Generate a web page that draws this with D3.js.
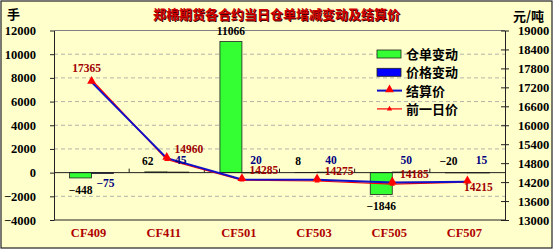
<!DOCTYPE html>
<html lang="zh">
<head>
<meta charset="utf-8">
<title>郑棉期货各合约当日仓单增减变动及结算价</title>
<script src="https://cdn.jsdelivr.net/npm/d3@7/dist/d3.min.js"></script>
<style>
  body { margin: 0; background: #fff; }
  svg text { font-family: "Liberation Serif", "Noto Sans CJK SC", serif; font-weight: bold; }
  .cjk { font-family: "Noto Sans CJK SC", sans-serif !important; }
</style>
</head>
<body>
<script>
// data
var categories = ["CF409", "CF411", "CF501", "CF503", "CF505", "CF507"];
var receiptChange = [-448, 62, 11066, 8, -1846, -20];   // 仓单变动
var priceChange = [-75, 45, 20, 40, 50, 15];             // 价格变动
var settlePrice = [17365, 14960, 14285, 14275, 14185, 14215]; // 结算价
var prevPrice = [17440, 14915, 14265, 14235, 14135, 14200];   // 前一日价
var leftTicks = [-4000, -2000, 0, 2000, 4000, 6000, 8000, 10000, 12000];
var rightTicks = [13000, 13600, 14200, 14800, 15400, 16000, 16600, 17200, 17800, 18400, 19000];

var W = 555, H = 250;
var plot = { left: 54, right: 505, top: 30.5, bottom: 220 };

var svg = d3.select("body").append("svg")
    .attr("width", W)
    .attr("height", H);

// background + frame
svg.append("rect").attr("x", 0).attr("y", 0).attr("width", W).attr("height", H).attr("fill", "#fff");
svg.append("rect").attr("x", 1).attr("y", 1).attr("width", 551).attr("height", 247)
    .attr("fill", "#ffffcc").attr("stroke", "#222").attr("stroke-width", 1.2);

// scales
var x = d3.scaleBand().domain(categories).range([plot.left, plot.right]);
var yL = d3.scaleLinear().domain([-4000, 12000]).range([plot.bottom, plot.top]);
var yR = d3.scaleLinear().domain([13000, 19000]).range([plot.bottom, plot.top]);
var barW = 22;

// gridlines
svg.append("g").selectAll("line")
    .data(leftTicks.filter(function(d) { return d !== 0 && d !== -4000 && d !== 12000; }))
    .enter().append("line")
    .attr("x1", plot.left).attr("x2", plot.right)
    .attr("y1", function(d) { return yL(d); }).attr("y2", function(d) { return yL(d); })
    .attr("stroke", "#a0a0a0").attr("stroke-dasharray", "4,3").attr("stroke-width", 0.8);

// plot frame top / bottom
svg.append("line").attr("x1", plot.left).attr("x2", plot.right)
    .attr("y1", plot.top).attr("y2", plot.top).attr("stroke", "#808080");
svg.append("line").attr("x1", plot.left).attr("x2", plot.right)
    .attr("y1", plot.bottom).attr("y2", plot.bottom).attr("stroke", "#222");

// left axis
var axL = svg.append("g")
    .attr("transform", "translate(" + plot.left + ",0)")
    .call(d3.axisLeft(yL).tickValues(leftTicks).tickSize(4).tickSizeOuter(0).tickPadding(14)
        .tickFormat(function(d) { return d < 0 ? "\u2212" + Math.abs(d) : d; }));
axL.select(".domain").attr("stroke", "#222");
axL.selectAll("line").attr("stroke", "#222");
axL.selectAll("text").attr("font-size", "12.5px").attr("fill", "#000");

// right axis
var axR = svg.append("g")
    .attr("transform", "translate(" + plot.right + ",0)")
    .call(d3.axisRight(yR).tickValues(rightTicks).tickSize(4).tickSizeOuter(0).tickPadding(9)
        .tickFormat(d3.format("d")));
axR.selectAll(".tick line").attr("x1", -4).attr("x2", 4);
axR.select(".domain").attr("stroke", "#222");
axR.selectAll("line").attr("stroke", "#222");
axR.selectAll("text").attr("font-size", "12.5px").attr("fill", "#000");

// green bars (仓单变动)
svg.append("g").selectAll("rect")
    .data(receiptChange)
    .enter().append("rect")
    .attr("x", function(d, i) { return x(categories[i]) + x.bandwidth() / 2 - barW; })
    .attr("y", function(d) { return Math.min(yL(d), yL(0)); })
    .attr("width", barW)
    .attr("height", function(d) { return Math.abs(yL(d) - yL(0)); })
    .attr("fill", "#33ff33").attr("stroke", "#222").attr("stroke-width", 0.8);

// blue bars (价格变动)
svg.append("g").selectAll("rect")
    .data(priceChange)
    .enter().append("rect")
    .attr("x", function(d, i) { return x(categories[i]) + x.bandwidth() / 2; })
    .attr("y", function(d) { return Math.min(yL(d), yL(0)); })
    .attr("width", barW)
    .attr("height", function(d) { return Math.max(Math.abs(yL(d) - yL(0)), 0.5); })
    .attr("fill", "#0000ff").attr("stroke", "#222").attr("stroke-width", 0.8);

// zero line with category ticks
svg.append("line").attr("x1", plot.left).attr("x2", plot.right)
    .attr("y1", yL(0)).attr("y2", yL(0)).attr("stroke", "#222");
svg.append("g").selectAll("line")
    .data(categories.slice(1))
    .enter().append("line")
    .attr("x1", function(d) { return x(d); }).attr("x2", function(d) { return x(d); })
    .attr("y1", yL(0)).attr("y2", yL(0) - 4).attr("stroke", "#222");

// lines
var cx = function(d, i) { return x(categories[i]) + x.bandwidth() / 2; };
var priceLine = d3.line().x(cx).y(function(d) { return yR(d); });

svg.append("path").datum(prevPrice).attr("d", priceLine)
    .attr("fill", "none").attr("stroke", "#ff0000").attr("stroke-width", 1.2);
svg.append("path").datum(settlePrice).attr("d", priceLine)
    .attr("fill", "none").attr("stroke", "#1010c8").attr("stroke-width", 2);

var tri = d3.symbol().type(d3.symbolTriangle).size(34);
var triSmall = d3.symbol().type(d3.symbolTriangle).size(12);
svg.append("g").selectAll("path")
    .data(prevPrice)
    .enter().append("path")
    .attr("d", triSmall)
    .attr("transform", function(d, i) { return "translate(" + cx(d, i) + "," + yR(d) + ")"; })
    .attr("fill", "#ff0000");
svg.append("g").selectAll("path")
    .data(settlePrice)
    .enter().append("path")
    .attr("d", tri)
    .attr("transform", function(d, i) { return "translate(" + cx(d, i) + "," + (yR(d) - 1) + ")"; })
    .attr("fill", "#ff0000");

// data labels
var labelFont = "11.5px";
var fmtSigned = function(d) { return d < 0 ? "\u2212" + Math.abs(d) : d; };
svg.append("g").selectAll("text")
    .data(receiptChange)
    .enter().append("text")
    .attr("x", function(d, i) { return cx(d, i) - barW / 2 - (d < -100 ? 0 : 8) + (d > 1000 ? 8 : 0); })
    .attr("y", function(d) {
        if (d > 1000) return yL(d) - 7;
        if (d < -100) return yL(d) + 16;
        return yL(0) - 8;
    })
    .attr("text-anchor", "middle").attr("font-size", labelFont).attr("fill", "#000")
    .text(fmtSigned);

svg.append("g").selectAll("text")
    .data(priceChange)
    .enter().append("text")
    .attr("x", function(d, i) { return cx(d, i) + barW / 2 + 3; })
    .attr("y", function(d) { return d < 0 ? yL(0) + 14 : yL(0) - 9; })
    .attr("text-anchor", "middle").attr("font-size", labelFont).attr("fill", "#000080")
    .text(fmtSigned);

svg.append("g").selectAll("text")
    .data(settlePrice)
    .enter().append("text")
    .attr("x", function(d, i) { return i === 0 ? cx(d, i) - 5 : cx(d, i) + (i === 5 ? 11 : 22); })
    .attr("y", function(d, i) { return i === 0 ? yR(d) - 10 : (i === 5 ? yR(d) + 9 : yR(d) - 5); })
    .attr("text-anchor", "middle").attr("font-size", labelFont).attr("fill", "#a00000")
    .text(function(d) { return d; });

// category labels
svg.append("g").selectAll("text")
    .data(categories)
    .enter().append("text")
    .attr("x", function(d) { return x(d) + x.bandwidth() / 2 - 3; })
    .attr("y", 237)
    .attr("text-anchor", "middle").attr("font-size", "12.5px").attr("fill", "#b00000")
    .text(function(d) { return d; });

// title and units
svg.append("text").attr("class", "cjk")
    .attr("x", 277.5).attr("y", 19.5).attr("text-anchor", "middle")
    .attr("font-size", "13px").attr("fill", "#400000")
    .text("郑棉期货各合约当日仓单增减变动及结算价");
svg.append("text").attr("class", "cjk")
    .attr("x", 276.5).attr("y", 18.5).attr("text-anchor", "middle")
    .attr("font-size", "13px").attr("fill", "#d00000")
    .text("郑棉期货各合约当日仓单增减变动及结算价");
svg.append("text").attr("class", "cjk")
    .attr("x", 7).attr("y", 19).attr("font-size", "13px").attr("fill", "#000").text("手");
svg.append("text").attr("class", "cjk")
    .attr("x", 513).attr("y", 21).attr("font-size", "13px").attr("fill", "#000").text("元/吨");

// legend
var legendNames = ["仓单变动", "价格变动", "结算价", "前一日价"];
var lg = svg.append("g").attr("transform", "translate(377,54)");
var rows = lg.selectAll("g").data(legendNames).enter().append("g")
    .attr("transform", function(d, i) { return "translate(0," + (i * 18.3) + ")"; });
rows.each(function(d, i) {
    var g = d3.select(this);
    if (i < 2) {
        g.append("rect").attr("x", 0).attr("y", -4).attr("width", 24).attr("height", 8)
            .attr("fill", i === 0 ? "#33ff33" : "#0000ff").attr("stroke", "#222").attr("stroke-width", 0.8);
    } else if (i === 2) {
        g.append("line").attr("x1", 0).attr("x2", 25).attr("y1", 0).attr("y2", 0)
            .attr("stroke", "#1010c8").attr("stroke-width", 2);
        g.append("path").attr("d", tri).attr("transform", "translate(12.5,-1)").attr("fill", "#ff0000");
    } else {
        g.append("line").attr("x1", 0).attr("x2", 25).attr("y1", 0).attr("y2", 0)
            .attr("stroke", "#ff0000").attr("stroke-width", 1.2);
        g.append("path").attr("d", triSmall)
            .attr("transform", "translate(12.5,0)").attr("fill", "#ff0000");
    }
    g.append("text").attr("class", "cjk").attr("x", 29).attr("y", 5)
        .attr("font-size", "13px").attr("fill", "#000").text(d);
});
</script>
</body>
</html>
